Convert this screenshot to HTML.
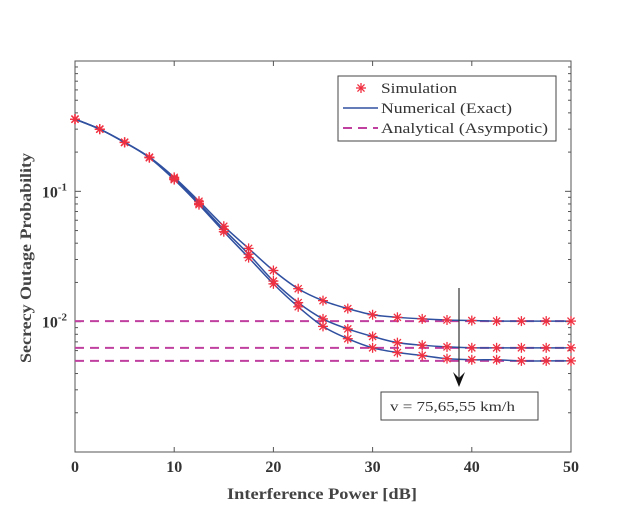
<!DOCTYPE html>
<html><head><meta charset="utf-8"><style>
body{margin:0;background:#fff}
svg text{font-family:"Liberation Serif",serif}
</style></head><body>
<svg id="chart" width="634" height="520" xmlns="http://www.w3.org/2000/svg"></svg>
<script>
const xs=[0,2.5,5,7.5,10,12.5,15,17.5,20,22.5,25,27.5,30,32.5,35,37.5,40,42.5,45,47.5,50];
const s75=[0.358,0.30,0.238,0.183,0.128,0.084,0.054,0.0365,0.0247,0.0179,0.0145,0.0126,0.0113,0.0108,0.0105,0.0103,0.0102,0.0101,0.0101,0.0101,0.0101];
const s65=[0.358,0.30,0.238,0.182,0.125,0.081,0.051,0.033,0.0205,0.014,0.0105,0.0088,0.0077,0.0069,0.0066,0.0064,0.0063,0.0063,0.0063,0.0063,0.0063];
const s55=[0.358,0.30,0.237,0.181,0.123,0.079,0.049,0.031,0.0195,0.013,0.0092,0.0074,0.0063,0.0058,0.0055,0.0052,0.0051,0.0051,0.0050,0.0050,0.0050];
const asym=[0.0101,0.0063,0.0050];
const xTicks=[0,10,20,30,40,50];
const yLabels=[{e:-1,t:"10"},{e:-2,t:"10"}];
const L=75,R=571,T=61,B=452;
const X=v=>L+(v-0)/50*(R-L);
const Y=v=>B-(Math.log10(v)+3)/3*(B-T);
const svg=document.getElementById('chart');
const NS="http://www.w3.org/2000/svg";
function mk(tag,a,parent){const e=document.createElementNS(NS,tag);for(const k in a)e.setAttribute(k,a[k]);(parent||svg).appendChild(e);return e;}
function smooth(pts){let d='M'+pts[0][0]+','+pts[0][1];
  for(let i=0;i<pts.length-1;i++){const p0=pts[Math.max(0,i-1)],p1=pts[i],p2=pts[i+1],p3=pts[Math.min(pts.length-1,i+2)];
    const c1=[p1[0]+(p2[0]-p0[0])/6,p1[1]+(p2[1]-p0[1])/6],c2=[p2[0]-(p3[0]-p1[0])/6,p2[1]-(p3[1]-p1[1])/6];
    d+='C'+c1[0]+','+c1[1]+' '+c2[0]+','+c2[1]+' '+p2[0]+','+p2[1];}return d;}
let ax=mk('rect',{x:L,y:T,width:R-L,height:B-T,fill:'none',stroke:'#555','stroke-width':1});


xTicks.forEach(t=>{
  mk('line',{x1:X(t),x2:X(t),y1:B,y2:B-5,stroke:'#555'});
  mk('line',{x1:X(t),x2:X(t),y1:T,y2:T+5,stroke:'#555'});
  const tx=mk('text',{x:X(t),y:B+20,'text-anchor':'middle','font-size':16,'font-weight':'bold',fill:'#333'});
  tx.textContent=t;
  
  
});
for(let e=-3;e<0;e++){for(let m=1;m<10;m++){const v=m*Math.pow(10,e);const y=Y(v);const len=m==1?6:3;
  mk('line',{x1:L,x2:L+len,y1:y,y2:y,stroke:'#555'});
  mk('line',{x1:R,x2:R-len,y1:y,y2:y,stroke:'#555'});}}
yLabels.forEach(l=>{
  const tx=mk('text',{x:L-8,y:Y(Math.pow(10,l.e))+6,'text-anchor':'end','font-size':16,'font-weight':'bold',fill:'#333'});
  tx.textContent=l.t;
  const ts=mk('tspan',{dy:-7,'font-size':11},tx);ts.textContent=String(l.e);
  
  
});
asym.forEach(a=>{
  const ln=mk('line',{x1:L,x2:R,y1:Y(a),y2:Y(a),stroke:'#c040a0','stroke-width':2,'stroke-dasharray':'9,6'});
  
  
});
function star(x,y){const g=mk('g',{stroke:'#f03040','stroke-width':1.3});
  for(let i=0;i<4;i++){const a=i*Math.PI/4;mk('line',{x1:x-5*Math.cos(a),y1:y-5*Math.sin(a),x2:x+5*Math.cos(a),y2:y+5*Math.sin(a)},g);}return g;}
[s75,s65,s55].forEach((s,k)=>{
  const p=mk('path',{d:smooth(s.map((v,i)=>[X(xs[i]),Y(v)])),fill:'none',stroke:'#3050a0','stroke-width':1.5});
  
  
  s.forEach((v,i)=>{const g=star(X(xs[i]),Y(v));
    
    });
});
let xt=mk('text',{x:227,y:499,'font-size':16,'font-weight':'bold',fill:'#444',textLength:190,lengthAdjust:'spacingAndGlyphs'});xt.textContent='Interference Power [dB]';


let yt=mk('text',{x:0,y:0,'text-anchor':'middle','font-size':16,'font-weight':'bold',fill:'#444',textLength:210,lengthAdjust:'spacingAndGlyphs',transform:'translate(31,258) rotate(-90)'});yt.textContent='Secrecy Outage Probability';


let lg=mk('g',{});


mk('rect',{x:338,y:76,width:218,height:65,fill:'#fff',stroke:'#444'},lg);
star(361,88);
mk('line',{x1:343,x2:378,y1:108,y2:108,stroke:'#3050a0','stroke-width':1.5},lg);
mk('line',{x1:343,x2:378,y1:128,y2:128,stroke:'#c040a0','stroke-width':2,'stroke-dasharray':'9,6'},lg);
[['Simulation',93,76],['Numerical (Exact)',113,131],['Analytical (Asympotic)',133,167]].forEach(r=>{
  const t=mk('text',{x:381,y:r[1],'font-size':15,fill:'#333',textLength:r[2],lengthAdjust:'spacingAndGlyphs'},lg);t.textContent=r[0];
  
  
});
mk('line',{x1:459,x2:459,y1:288,y2:380,stroke:'#333','stroke-width':1.2});
mk('path',{d:'M453,372 L459,387 L465,372 L459,378 Z',fill:'#111'});
let ab=mk('rect',{x:381,y:392,width:157,height:28,fill:'#fff',stroke:'#444'});


let at=mk('text',{x:390,y:411,'font-size':14,fill:'#333',textLength:125,lengthAdjust:'spacingAndGlyphs'});at.textContent='v = 75,65,55 km/h';


</script>
</body></html>
